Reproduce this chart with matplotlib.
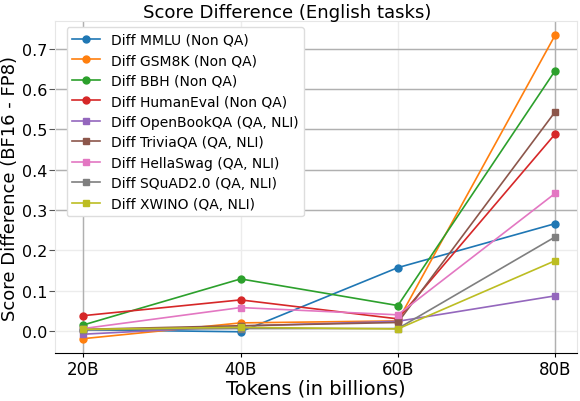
import matplotlib
matplotlib.use('Agg')
import matplotlib.pyplot as plt
from matplotlib.ticker import MultipleLocator

tokens = ['20B', '40B', '60B', '80B']

labels = ['Diff MMLU (Non QA)', 'Diff GSM8K (Non QA)', 'Diff BBH (Non QA)',
          'Diff HumanEval (Non QA)', 'Diff OpenBookQA (QA, NLI)',
          'Diff TriviaQA (QA, NLI)', 'Diff HellaSwag (QA, NLI)',
          'Diff SQuAD2.0 (QA, NLI)', 'Diff XWINO (QA, NLI)']

mmlu = [0.003, -0.002, 0.157, 0.266]
gsm8k = [-0.019, 0.020, 0.025, 0.733]
bbh = [0.015, 0.129, 0.063, 0.645]
humaneval = [0.038, 0.077, 0.030, 0.488]
openbookqa = [-0.008, 0.012, 0.024, 0.087]
triviaqa = [0.004, 0.013, 0.021, 0.543]
hellaswag = [0.006, 0.058, 0.040, 0.341]
squad = [0.003, 0.006, 0.006, 0.233]
xwino = [0.004, 0.009, 0.005, 0.174]

series = [mmlu, gsm8k, bbh, humaneval, openbookqa, triviaqa, hellaswag, squad, xwino]
markers = ['o', 'o', 'o', 'o', 's', 's', 's', 's', 's']

fig, ax = plt.subplots(figsize=(5.8, 4.02), dpi=100)
fig.subplots_adjust(left=0.095, right=0.995, top=0.945, bottom=0.119)

for vals, lab, mk in zip(series, labels, markers):
  ax.plot(tokens, vals, marker=mk, markersize=5, linewidth=1.2, label=lab)

ax.set_xlim(-0.18, 3.14)
ax.yaxis.set_major_locator(MultipleLocator(0.1))
ax.set_ylim(-0.055, 0.768)
ax.set_axisbelow(True)
ax.grid(True, color='#ececec', linewidth=1.0)
# some grid lines come out darker in the original
for t in ax.get_yticks():
  if 0.25 < t < 0.75:
    ax.axhline(t, color='#b0b0b0', linewidth=1.0, zorder=0.6)
for i in (0, 3):
  ax.axvline(i, color='#b0b0b0', linewidth=1.0, zorder=0.6)

for side in ('left', 'top', 'right'):
  ax.spines[side].set_color('#e6e6e6')
ax.spines['bottom'].set_color('black')
ax.tick_params(axis='y', colors='#555555', labelcolor='black', labelsize=11.5,
               length=4, pad=1.5)
ax.tick_params(axis='x', labelsize=12, length=3, pad=2)

# title sits a bit left of the axes centre in the original
ax.set_title('Score Difference (English tasks)', fontsize=13.1, pad=3, x=0.445)
ax.set_xlabel('Tokens (in billions)', fontsize=14, labelpad=0)
ax.set_ylabel('Score Difference (BF16 - FP8)', fontsize=13, labelpad=2)
ax.legend(loc='upper left', bbox_to_anchor=(0.022, 0.982), borderaxespad=0,
          fontsize=10, framealpha=1.0, edgecolor='#dddddd', labelspacing=0.47)

plt.savefig('out.png')
